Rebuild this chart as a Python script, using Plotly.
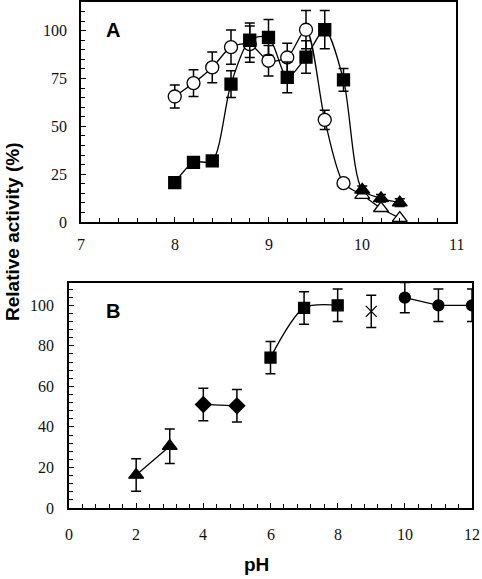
import plotly.graph_objects as go

# ---- Panel A data ----
a_circ_x = [8.0, 8.2, 8.4, 8.6, 8.8, 9.0, 9.2, 9.4, 9.6, 9.8]
a_circ_y = [65.6, 72.6, 80.8, 91.4, 93.0, 84.3, 86.0, 100.5, 53.4, 20.3]
a_circ_e = [6, 7, 8, 9, 9.5, 8, 7.5, 10, 5, 0]

a_sq_x = [8.0, 8.2, 8.4, 8.6, 8.8, 9.0, 9.2, 9.4, 9.6, 9.8]
a_sq_y = [20.6, 31.2, 31.9, 72.1, 95.0, 96.5, 75.6, 86.2, 100.5, 74.3]
a_sq_e = [0, 0, 0, 7, 9, 9.3, 8, 8.5, 10, 6]

a_otri_x = [10.0, 10.2, 10.4]
a_otri_y = [14.1, 7.2, 2.0]

a_ftri_x = [10.0, 10.2, 10.4]
a_ftri_y = [16.8, 12.4, 10.1]
a_ftri_e = [2, 2, 2]

# ---- Panel B data ----
b_tri_x = [2, 3]
b_tri_y = [16.3, 30.5]
b_tri_e = [8, 8.5]
b_dia_x = [4, 5]
b_dia_y = [51.1, 50.4]
b_dia_e = [8, 8]
b_sq_x = [6, 7, 8]
b_sq_y = [74.2, 98.7, 100.0]
b_sq_e = [8, 8, 8]
b_x_x = [9]
b_x_y = [97.0]
b_x_e = [8]
b_circ_x = [10, 11, 12]
b_circ_y = [103.8, 100.0, 100.0]
b_circ_e = [7.5, 8, 8]

# ---- tick labels ----
a_xticks = [7, 8, 9, 10, 11]
a_yticks = [0, 25, 50, 75, 100]
b_xticks = [0, 2, 4, 6, 8, 10, 12]
b_yticks = [0, 20, 40, 60, 80, 100]

BLACK = "black"
SANS = "Liberation Sans"
SERIF = "Liberation Serif, DejaVu Serif, Times New Roman, serif"
fig = go.Figure()

def eb(vals, w=5):
    return dict(type="data", array=vals, visible=True, color=BLACK, thickness=1.5, width=w)

def line(x, y, xa, ya, smooth=True):
    fig.add_trace(go.Scatter(x=x, y=y, mode="lines", xaxis=xa, yaxis=ya,
                             line=dict(color=BLACK, width=1.3, shape="spline" if smooth else "linear",
                                       smoothing=0.8),
                             hoverinfo="skip", showlegend=False))

def marks(x, y, e, symbol, size, fill, xa, ya):
    fig.add_trace(go.Scatter(x=x, y=y, mode="markers", xaxis=xa, yaxis=ya,
                             error_y=eb(e) if e is not None else None,
                             marker=dict(symbol=symbol, size=size, color=fill,
                                         line=dict(color=BLACK, width=1.3)),
                             showlegend=False))

# Panel A
line(a_circ_x + a_otri_x, a_circ_y + a_otri_y, "x", "y")
line(a_sq_x + a_ftri_x, a_sq_y + a_ftri_y, "x", "y")
marks(a_otri_x, a_otri_y, None, "triangle-up", 13, "white", "x", "y")
marks(a_ftri_x, a_ftri_y, a_ftri_e, "triangle-up", 13, BLACK, "x", "y")
marks(a_circ_x, a_circ_y, a_circ_e, "circle", 13, "white", "x", "y")
marks(a_sq_x, a_sq_y, a_sq_e, "square", 12, BLACK, "x", "y")

# Panel B
line(b_tri_x, b_tri_y, "x2", "y2", False)
line(b_dia_x, b_dia_y, "x2", "y2", False)
line(b_sq_x, b_sq_y, "x2", "y2")
line(b_circ_x, b_circ_y, "x2", "y2", False)
marks(b_tri_x, b_tri_y, b_tri_e, "triangle-up", 13, BLACK, "x2", "y2")
marks(b_dia_x, b_dia_y, b_dia_e, "diamond", 12, BLACK, "x2", "y2")
marks(b_sq_x, b_sq_y, b_sq_e, "square", 11, BLACK, "x2", "y2")
marks(b_x_x, b_x_y, b_x_e, "x-thin", 11, BLACK, "x2", "y2")
marks(b_circ_x, b_circ_y, b_circ_e, "circle", 11, BLACK, "x2", "y2")

W, H = 482, 579

def px(x):
    return x / W

def py(y):
    return 1 - y / H

common = dict(showline=True, linecolor=BLACK, linewidth=1.5, mirror=True, ticks="inside",
              ticklen=5, tickwidth=1.3, tickcolor=BLACK, showgrid=False, zeroline=False,
              showticklabels=False)

def minor(d):
    return dict(dtick=d, ticks="inside", ticklen=4, tickwidth=1.2, tickcolor=BLACK, showgrid=False)

tickfont = dict(family=SERIF, size=16, color="#111")
ann = []
for v in a_xticks:
    ann.append(dict(text=str(v), x=v, xref="x", y=py(244), yref="paper", showarrow=False,
                    xanchor="center", yanchor="middle", font=tickfont))
for v in a_yticks:
    ann.append(dict(text=str(v), x=px(69), xref="paper", y=v, yref="y", showarrow=False,
                    xanchor="right", yanchor="middle", font=tickfont))
for v in b_xticks:
    ann.append(dict(text=str(v), x=v, xref="x2", y=py(534), yref="paper", showarrow=False,
                    xanchor="center", yanchor="middle", font=tickfont))
for v in b_yticks:
    ann.append(dict(text=str(v), x=px(56), xref="paper", y=v, yref="y2", showarrow=False,
                    xanchor="right", yanchor="middle", font=tickfont))

ann += [
    dict(text="<b>A</b>", x=px(113), y=py(30), xref="paper", yref="paper",
         xanchor="center", yanchor="middle",
         showarrow=False, font=dict(family=SANS, size=20, color=BLACK)),
    dict(text="<b>B</b>", x=px(113), y=py(311), xref="paper", yref="paper",
         xanchor="center", yanchor="middle",
         showarrow=False, font=dict(family=SANS, size=20, color=BLACK)),
    dict(text="<b>Relative activity (%)</b>", x=px(13), y=py(232), xref="paper",
         yref="paper", textangle=-90, showarrow=False, xanchor="center", yanchor="middle",
         font=dict(family=SANS, size=19, color=BLACK)),
    dict(text="<b>pH</b>", x=px(256), y=py(564), xref="paper", yref="paper",
         showarrow=False, xanchor="center", yanchor="middle",
         font=dict(family=SANS, size=19, color=BLACK)),
]

fig.update_layout(
    width=W, height=H, margin=dict(l=0, r=0, t=0, b=0, autoexpand=False),
    paper_bgcolor="white", plot_bgcolor="white",
    xaxis=dict(domain=[px(81), px(456)], range=[7, 11], dtick=1, tick0=7, anchor="y",
               minor=minor(0.2), **common),
    yaxis=dict(domain=[py(222), py(2)], range=[0, 115],
               tickvals=a_yticks, anchor="x",
               minor=dict(tickvals=list(range(0, 116, 5)), ticks="inside", ticklen=4,
                          tickwidth=1.2, tickcolor=BLACK, showgrid=False),
               **common),
    xaxis2=dict(domain=[px(69), px(472)], range=[0, 12], dtick=2, tick0=0, anchor="y2",
                minor=minor(0.4), **common),
    yaxis2=dict(domain=[py(508), py(283)], range=[0, 111], dtick=20, tick0=0,
                anchor="x2", minor=minor(4), **common),
    annotations=ann,
)

fig.write_html("out.html", config={"displayModeBar": False},
               post_script="document.body.style.margin='0';document.body.style.overflow='hidden';")
